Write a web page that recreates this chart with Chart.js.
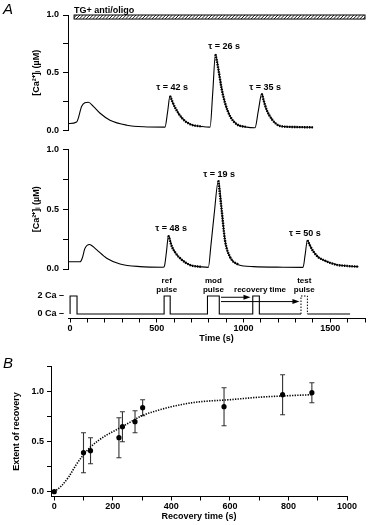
<!DOCTYPE html>
<html lang="en">
<head>
  <meta charset="UTF-8" />
  <title>Recovery of Ca2+ clearance</title>
  <script src="https://cdn.jsdelivr.net/npm/chart.js"></script>
  <style>
    body { margin: 0; background: #fff; }
    #wrap { position: relative; width: 370px; height: 525px; background: #fff; }
    canvas { position: absolute; left: 0; }
    .panel { position: absolute; font: italic 15px "Liberation Sans", Arial, sans-serif; color: #000; }
  </style>
</head>
<body>
<div id="wrap">
  <canvas id="topTrace" width="370" height="140" style="top:0"></canvas>
  <canvas id="midTrace" width="370" height="140" style="top:140px"></canvas>
  <canvas id="protocol" width="370" height="75" style="top:275px"></canvas>
  <canvas id="recovery" width="370" height="180" style="top:345px"></canvas>
  <div class="panel" style="left:3px;top:0px">A</div>
  <div class="panel" style="left:3px;top:354px">B</div>
</div>

<script>
  // ---- panel A, upper trace (time s, [Ca]i uM)
  const topT = [-10, 38, 67, 85, 105, 134, 173, 230, 327, 423,
                547, 562, 576, 590, 605, 644, 692, 760,
                807, 822, 838, 855, 874, 893, 922, 961, 1018,
                1066, 1085, 1105, 1118, 1133, 1162, 1210, 1270, 1330, 1401];
  const topV = [0.06, 0.075, 0.21, 0.24, 0.245, 0.21, 0.15, 0.09, 0.047, 0.033,
                0.03, 0.16, 0.30, 0.25, 0.20, 0.11, 0.055, 0.035,
                0.03, 0.32, 0.66, 0.53, 0.36, 0.24, 0.125, 0.055, 0.03,
                0.025, 0.17, 0.32, 0.25, 0.18, 0.10, 0.04, 0.032, 0.03, 0.028];
  const topDecays = [[576, 760], [838, 1030], [1105, 1401]];
  const topTau = ['\u03c4 = 42 s', '\u03c4 = 26 s', '\u03c4 = 35 s'];
  const topTauT = [588, 888, 1124];
  const topTauV = [0.37, 0.73, 0.375];

  // drug bar
  const drugLabel = 'TG+ anti/oligo';
  const drugStart = 23, drugEnd = 1700;
  const drugTop = 1.0, drugBottom = 0.965;

  // ---- panel A, lower trace
  const midT = [-10, 58, 70, 85, 100, 111, 130, 154, 211, 288,
                403, 538, 545, 556, 567, 586, 610, 634, 692, 760,
                797, 812, 830, 855, 874, 893, 922, 970, 1057, 1229,
                1343, 1355, 1368, 1385, 1403, 1430, 1460, 1537, 1600, 1662];
  const midV = [0.06, 0.06, 0.09, 0.17, 0.20, 0.205, 0.19, 0.16, 0.09, 0.042,
                0.02, 0.015, 0.03, 0.15, 0.28, 0.19, 0.13, 0.09, 0.033, 0.018,
                0.014, 0.20, 0.45, 0.74, 0.49, 0.24, 0.10, 0.035, 0.02, 0.015,
                0.014, 0.12, 0.24, 0.19, 0.145, 0.10, 0.075, 0.035, 0.025, 0.02];
  const midDecays = [[567, 790], [855, 1000], [1368, 1662]];
  const midTau = ['\u03c4 = 48 s', '\u03c4 = 19 s', '\u03c4 = 50 s'];
  const midTauT = [582, 859, 1354];
  const midTauV = [0.34, 0.79, 0.30];

  // ---- protocol (0 = 0 Ca, 1 = 2 Ca)
  const protoT = [0, 0, 40, 40, 542, 542, 577, 577, 792, 792, 860, 860, 1053, 1053, 1091, 1091, 1331, 1331, 1368, 1614];
  const protoV = [0, 1, 1, 0, 0, 1, 1, 0, 0, 1, 1, 0, 0, 1, 1, 0, 0, null, 0, 0];
  const testT = [1331, 1331, 1368, 1368];
  const testV = [0, 1, 1, 0];
  const caLevels = [0, 1];
  const caLabels = ['0 Ca \u2013', '2 Ca \u2013'];
  const noteLines = [['ref', 'pulse'], ['mod', 'pulse'], ['recovery time'], ['test', 'pulse']];
  const noteT = [557, 826, 1095, 1350];
  const noteV = [1.83, 1.83, 1.33, 1.83];
  const arrowFrom = [870, 870];
  const arrowTo = [1040, 1322];
  const arrowV = [0.93, 0.69];

  // ---- panel B
  const recT = [0, 100, 124, 221, 233, 276, 302, 580, 780, 880];
  const recV = [0, 0.39, 0.41, 0.54, 0.65, 0.70, 0.84, 0.85, 0.97, 0.99];
  const recErr = [0, 0.20, 0.13, 0.20, 0.15, 0.11, 0.08, 0.19, 0.20, 0.10];
  const fitT = [0, 25, 50, 75, 100, 125, 150, 175, 200, 250, 300, 350, 400, 450, 500, 600, 700, 800, 880];
  const fitV = [0, 0.06, 0.15, 0.27, 0.37, 0.45, 0.51, 0.56, 0.60, 0.68, 0.76, 0.81, 0.85, 0.88, 0.90, 0.92, 0.945, 0.96, 0.97];

  Chart.defaults.font.family = '"Liberation Sans", Arial, sans-serif';
  Chart.defaults.font.size = 9;
  Chart.defaults.font.weight = 'bold';
  Chart.defaults.color = '#000';
  Chart.defaults.animation = false;
  Chart.defaults.responsive = false;
  Chart.defaults.plugins.legend.display = false;
  Chart.defaults.plugins.tooltip.enabled = false;

  const pts = (T, V) => T.map((t, i) => ({ x: t, y: V[i] }));
  const isMult = (v, s) => Math.abs(v / s - Math.round(v / s)) < 1e-6;

  function tauPlugin(texts, ts, vs) {
    return {
      id: 'tau',
      afterDatasetsDraw(chart) {
        const { ctx, scales: { x, y } } = chart;
        ctx.save();
        ctx.font = 'bold 9px "Liberation Sans", Arial, sans-serif';
        ctx.fillStyle = '#000';
        ctx.textAlign = 'center';
        ctx.textBaseline = 'middle';
        texts.forEach((s, i) => ctx.fillText(s, x.getPixelForValue(ts[i]), y.getPixelForValue(vs[i])));
        ctx.restore();
      }
    };
  }

  const hatchPlugin = {
    id: 'hatch',
    afterDraw(chart) {
      const { ctx, scales: { x, y } } = chart;
      const x0 = x.getPixelForValue(drugStart), x1 = x.getPixelForValue(drugEnd);
      const y0 = y.getPixelForValue(drugTop), y1 = y.getPixelForValue(drugBottom);
      ctx.save();
      ctx.strokeStyle = '#000';
      ctx.lineWidth = 1;
      ctx.strokeRect(x0, y0, x1 - x0, y1 - y0);
      ctx.beginPath();
      ctx.rect(x0, y0, x1 - x0, y1 - y0);
      ctx.clip();
      ctx.lineWidth = 0.9;
      ctx.beginPath();
      for (let px = x0 - 8; px < x1 + 8; px += 3.3) {
        ctx.moveTo(px, y1);
        ctx.lineTo(px + (y1 - y0), y0);
      }
      ctx.stroke();
      ctx.restore();
      ctx.save();
      ctx.font = 'bold 9px "Liberation Sans", Arial, sans-serif';
      ctx.fillStyle = '#000';
      ctx.textBaseline = 'alphabetic';
      ctx.fillText(drugLabel, x0, y0 - 2);
      ctx.restore();
    }
  };

  function traceChart(id, T, V, decays, pad, plugins) {
    const decayData = [];
    decays.forEach(([a, b]) => {
      T.forEach((t, i) => { if (t >= a && t <= b) decayData.push({ x: t, y: V[i] }); });
      decayData.push({ x: b + 0.5, y: null });
    });
    return new Chart(document.getElementById(id), {
      type: 'line',
      data: {
        datasets: [{
          data: pts(T, V),
          borderColor: '#000',
          borderWidth: 1.1,
          pointRadius: 0,
          cubicInterpolationMode: 'monotone'
        }, {
          data: decayData,
          borderColor: '#000',
          borderWidth: 2.4,
          borderDash: [1.4, 1.1],
          borderCapStyle: 'butt',
          pointRadius: 0,
          cubicInterpolationMode: 'monotone',
          spanGaps: false
        }]
      },
      options: {
        layout: { padding: pad },
        scales: {
          x: { type: 'linear', display: false, min: -12, max: 1700 },
          y: {
            min: 0, max: 1,
            afterFit: s => { s.width = 68; },
            border: { color: '#000', width: 1 },
            grid: { drawOnChartArea: false, tickLength: 5, color: '#000' },
            ticks: {
              stepSize: 0.25, includeBounds: false, padding: 4,
              callback: v => isMult(v, 0.5) ? v.toFixed(1) : ''
            },
            title: {
              display: true, text: '[Ca\u00b2\u207a]\u1d62 (\u00b5M)',
              padding: { top: 31, bottom: 0 }
            }
          }
        }
      },
      plugins: plugins
    });
  }

  traceChart('topTrace', topT, topV, topDecays, { left: 0, right: 5, top: 15, bottom: 5 },
    [hatchPlugin, tauPlugin(topTau, topTauT, topTauV)]);
  traceChart('midTrace', midT, midV, midDecays, { left: 0, right: 5, top: 9, bottom: 11 },
    [tauPlugin(midTau, midTauT, midTauV)]);

  // protocol panel
  const protoPlugin = {
    id: 'proto',
    afterDatasetsDraw(chart) {
      const { ctx, scales: { x, y } } = chart;
      ctx.save();
      ctx.fillStyle = '#000';
      ctx.strokeStyle = '#000';
      ctx.font = 'bold 8px "Liberation Sans", Arial, sans-serif';
      ctx.textAlign = 'center';
      ctx.textBaseline = 'middle';
      noteLines.forEach((lines, i) => {
        const px = x.getPixelForValue(noteT[i]);
        const py = y.getPixelForValue(noteV[i]);
        lines.forEach((s, j) => ctx.fillText(s, px, py + j * 9));
      });
      ctx.lineWidth = 1;
      arrowFrom.forEach((a, i) => {
        const x1 = x.getPixelForValue(a), x2 = x.getPixelForValue(arrowTo[i]);
        const yy = y.getPixelForValue(arrowV[i]);
        ctx.beginPath();
        ctx.moveTo(x1, yy);
        ctx.lineTo(x2 - 5, yy);
        ctx.stroke();
        ctx.beginPath();
        ctx.moveTo(x2, yy);
        ctx.lineTo(x2 - 7, yy - 2.5);
        ctx.lineTo(x2 - 7, yy + 2.5);
        ctx.closePath();
        ctx.fill();
      });
      ctx.restore();
    }
  };

  new Chart(document.getElementById('protocol'), {
    type: 'line',
    data: {
      datasets: [{
        data: pts(protoT, protoV),
        borderColor: '#000', borderWidth: 1.1, pointRadius: 0, tension: 0, spanGaps: false
      }, {
        data: pts(testT, testV),
        borderColor: '#000', borderWidth: 1, borderDash: [1.5, 1.5], pointRadius: 0, tension: 0
      }]
    },
    options: {
      layout: { padding: { left: 0, right: 5, top: 16.5, bottom: 0 } },
      scales: {
        x: {
          type: 'linear', min: -12, max: 1700,
          afterFit: s => { s.height = 31.5; },
          border: { color: '#000', width: 1 },
          grid: { drawOnChartArea: false, tickLength: 4, color: '#000' },
          ticks: {
            stepSize: 100, includeBounds: false, autoSkip: false, maxRotation: 0, padding: 1,
            callback: v => isMult(v, 500) ? String(v) : ''
          },
          title: { display: true, text: 'Time (s)', padding: { top: 0, bottom: 6 } }
        },
        y: {
          min: -0.25, max: 1.25,
          afterFit: s => { s.width = 68; },
          border: { display: false },
          grid: { display: false, drawTicks: false },
          afterBuildTicks: s => { s.ticks = caLevels.map(v => ({ value: v })); },
          ticks: { padding: 4, callback: (v, i) => caLabels[i] }
        }
      }
    },
    plugins: [protoPlugin]
  });

  // panel B
  const errPlugin = {
    id: 'errbars',
    beforeDatasetsDraw(chart) {
      const { ctx, scales: { x, y } } = chart;
      ctx.save();
      ctx.strokeStyle = '#333';
      ctx.lineWidth = 1.1;
      recT.forEach((t, i) => {
        if (!recErr[i]) return;
        const px = x.getPixelForValue(t);
        const yt = y.getPixelForValue(recV[i] + recErr[i]);
        const yb = y.getPixelForValue(recV[i] - recErr[i]);
        ctx.beginPath();
        ctx.moveTo(px, yt); ctx.lineTo(px, yb);
        ctx.moveTo(px - 2.5, yt); ctx.lineTo(px + 2.5, yt);
        ctx.moveTo(px - 2.5, yb); ctx.lineTo(px + 2.5, yb);
        ctx.stroke();
      });
      ctx.restore();
    }
  };

  new Chart(document.getElementById('recovery'), {
    type: 'line',
    data: {
      datasets: [{
        data: pts(fitT, fitV),
        borderColor: '#000', borderWidth: 1.6, borderDash: [1.3, 1.3], borderCapStyle: 'butt',
        pointRadius: 0, cubicInterpolationMode: 'monotone'
      }, {
        data: pts(recT, recV),
        showLine: false, pointRadius: 2.6, pointBackgroundColor: '#000', pointBorderColor: '#000', pointBorderWidth: 0
      }]
    },
    options: {
      layout: { padding: { left: 0, right: 23, top: 21.7, bottom: 0 } },
      scales: {
        x: {
          type: 'linear', min: -11, max: 1000,
          afterFit: s => { s.height = 28.5; },
          border: { color: '#000', width: 1 },
          grid: { drawOnChartArea: false, tickLength: 4, color: '#000' },
          ticks: {
            stepSize: 100, includeBounds: false, autoSkip: false, maxRotation: 0, padding: 1,
            callback: v => isMult(v, 200) ? String(v) : ''
          },
          title: { display: true, text: 'Recovery time (s)', padding: { top: 0, bottom: 2.6 } }
        },
        y: {
          min: -0.048, max: 1.25,
          afterFit: s => { s.width = 51; },
          border: { color: '#000', width: 1 },
          grid: { drawOnChartArea: false, tickLength: 4, color: '#000' },
          ticks: {
            stepSize: 0.25, includeBounds: false, padding: 3,
            callback: v => isMult(v, 0.5) ? v.toFixed(1) : ''
          },
          title: { display: true, text: 'Extent of recovery', padding: { top: 11.6, bottom: 0 } }
        }
      }
    },
    plugins: [errPlugin]
  });
</script>
</body>
</html>
